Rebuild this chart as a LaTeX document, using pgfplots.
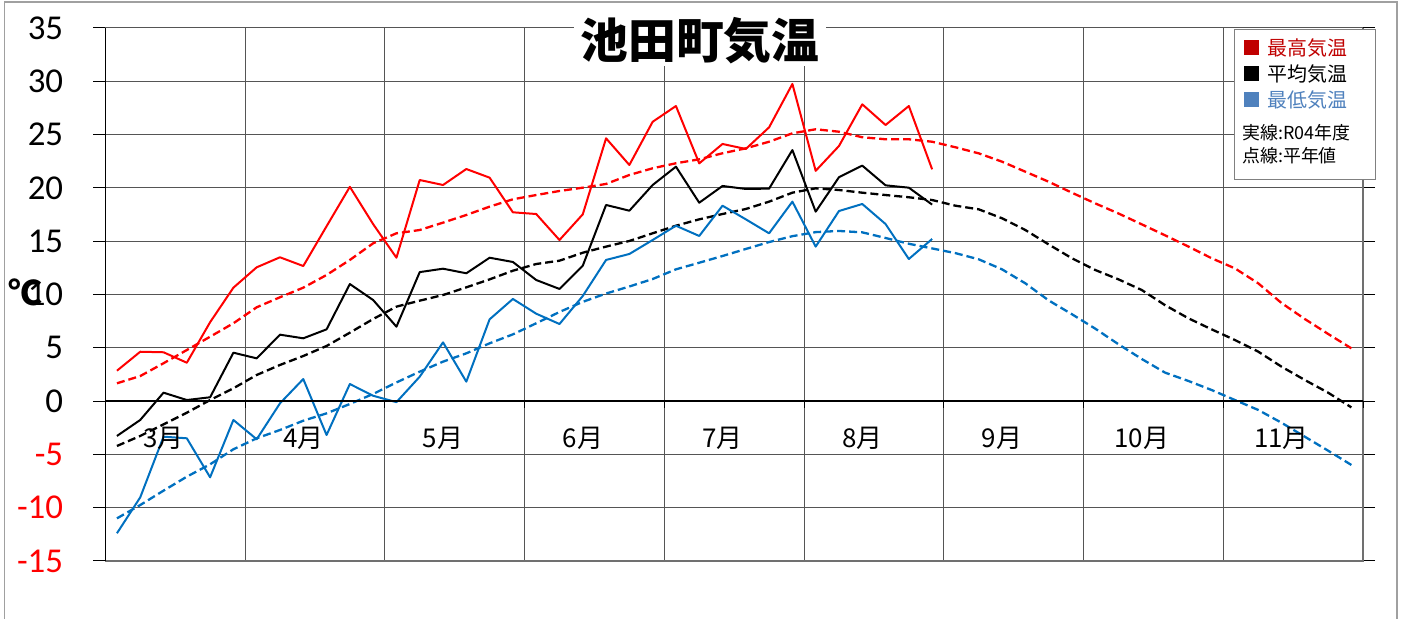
\documentclass[border=0pt]{standalone}
\usepackage{pgfplots}
\usepackage{pgfplotstable}
\pgfplotsset{compat=1.18}
\usepackage{fontspec}
\setmainfont{Carlito}
\newfontfamily\jp{Noto Sans CJK JP}

\definecolor{tmax}{RGB}{255,0,0}
\definecolor{tmin}{RGB}{0,112,192}
\definecolor{legred}{RGB}{192,0,0}
\definecolor{legblue}{RGB}{79,129,189}
\definecolor{gridc}{RGB}{85,85,85}
\definecolor{framec}{RGB}{160,160,160}

% R04 (solid): pentads, 6 per month, Mar--Aug
\pgfplotstableread{
i  hi     avg    lo
0  2.85  -3.27  -12.4
1  4.63  -1.77  -9.03
2  4.58   0.79  -3.34
3  3.6    0.1   -3.49
4  7.4    0.36  -7.15
5  10.64  4.54  -1.77
6  12.55  4.01  -3.58
7  13.49  6.23  -0.21
8  12.67  5.89   2.07
9  16.4   6.73  -3.18
10 20.1   10.98  1.6
11 16.6   9.48   0.5
12 13.45  6.98  -0.1
13 20.74  12.1   2.29
14 20.27  12.42  5.51
15 21.77  11.99  1.82
16 20.96  13.45  7.67
17 17.71  13.05  9.58
18 17.55  11.36  8.2
19 15.11  10.52  7.23
20 17.52  12.7   9.86
21 24.65  18.4   13.24
22 22.15  17.86  13.8
23 26.2   20.27  15.11
24 27.68  21.99  16.45
25 22.3   18.61  15.49
26 24.12  20.18  18.33
27 23.65  19.9   17.05
28 25.68  19.93  15.74
29 29.75  23.55  18.71
30 21.6   17.77  14.49
31 23.93  21.0   17.83
32 27.84  22.09  18.49
33 25.9   20.24  16.61
34 27.68  20.02  13.33
35 21.74  18.43  15.21
}\rfour

% normals (dashed): Mar--Nov
\pgfplotstableread{
i  hi     avg    lo
0  1.67  -4.21  -11.0
1  2.35  -3.27  -9.75
2  3.55  -2.18  -8.4
3  4.79  -1.09  -7.09
4  6.04   0.1   -5.93
5  7.3    1.2   -4.52
6  8.8    2.45  -3.49
7  9.74   3.39  -2.71
8  10.64  4.23  -1.84
9  11.83  5.17  -1.15
10 13.24  6.42  -0.27
11 14.8   7.7    0.67
12 15.74  8.86   1.75
13 16.05  9.42   2.76
14 16.74  9.95   3.7
15 17.46  10.67  4.48
16 18.24  11.42  5.42
17 18.93  12.23  6.26
18 19.33  12.86  7.3
19 19.71  13.17  8.36
20 20.02  13.92  9.31
21 20.37  14.49  10.09
22 21.21  15.02  10.75
23 21.84  15.74  11.45
24 22.31  16.45  12.36
25 22.68  17.05  12.98
26 23.25  17.55  13.61
27 23.71  18.02  14.27
28 24.33  18.71  14.92
29 25.12  19.55  15.47
30 25.5   19.96  15.85
31 25.27  19.8   15.96
32 24.75  19.55  15.83
33 24.56  19.33  15.3
34 24.56  19.12  14.76
35 24.33  18.86  14.32
36 23.81  18.33  13.88
37 23.24  17.99  13.3
38 22.46  17.15  12.36
39 21.52  16.05  11.05
40 20.58  14.7   9.45
41 19.55  13.4   8.15
42 18.55  12.3   6.8
43 17.6   11.42  5.33
44 16.58  10.42  3.95
45 15.55  9.0    2.67
46 14.5   7.77   1.89
47 13.4   6.73   1.04
48 12.45  5.73   0.1
49 11.05  4.64  -0.83
50 9.2    3.23  -2.03
51 7.7    1.98  -3.34
52 6.3    0.79  -4.65
53 4.95  -0.59  -5.99
}\normals

\tikzset{monthlab/.style={font=\jp\fontsize{26}{30}\selectfont}}

\begin{document}
\begin{tikzpicture}[x=1bp,y=1bp]
\useasboundingbox (0,0) rectangle (1402,619);
% outer chart frame (bottom edge is cut off)
\draw[framec, line width=1.3bp] (4.5,0) -- (4.5,617) -- (1397,617) -- (1397,0);

\begin{axis}[
    at={(105.3bp,58bp)}, anchor=south west,
    scale only axis,
    width=1257.7bp, height=533bp,
    xmin=-0.5, xmax=53.5,
    ymin=-15, ymax=35,
    xtick={-0.5,5.5,...,53.5},
    xticklabels={},
    xtick style={draw=none},
    ytick={-15,-10,...,35},
    yticklabels={\textcolor{red}{-15},\textcolor{red}{-10},\textcolor{red}{-5},0,5,10,15,20,25,30,35},
    grid=major,
    grid style={gridc, line width=1bp},
    axis line style={draw=none},
    tick align=outside,
    major tick length=12bp,
    ytick style={black, line width=1bp},
    tick label style={font=\fontsize{35}{40}\selectfont},
    yticklabel style={anchor=east, inner sep=0pt, xshift=-30bp},
    clip=false,
    every axis plot/.append style={line join=round},
]
% normals
\addplot[tmax, line width=2.3bp, dash pattern=on 8bp off 4bp] table[x=i, y=hi] {\normals};
\addplot[black, line width=2.3bp, dash pattern=on 8bp off 4bp] table[x=i, y=avg] {\normals};
\addplot[tmin, line width=2.3bp, dash pattern=on 8bp off 4bp] table[x=i, y=lo] {\normals};
% R04
\addplot[tmax, line width=2bp] table[x=i, y=hi] {\rfour};
\addplot[black, line width=2bp] table[x=i, y=avg] {\rfour};
\addplot[tmin, line width=2bp] table[x=i, y=lo] {\rfour};

% borders and category axis at 0
\draw[framec!70!black, line width=1.6bp] (axis cs:-0.5,-15) -- (axis cs:53.5,-15) -- (axis cs:53.5,35);
\draw[black, line width=1.2bp] (axis cs:-0.5,-15) -- (axis cs:-0.5,35);
\draw[black, line width=1.2bp] (axis cs:-0.5,0) -- (axis cs:53.5,0);
\draw[black, line width=1bp] (axis cs:-0.5,0) -- (axis cs:-0.5,-0.66);
\draw[black, line width=1bp] (axis cs:5.5,0) -- (axis cs:5.5,-0.66);
\draw[black, line width=1bp] (axis cs:11.5,0) -- (axis cs:11.5,-0.66);
\draw[black, line width=1bp] (axis cs:17.5,0) -- (axis cs:17.5,-0.66);
\draw[black, line width=1bp] (axis cs:23.5,0) -- (axis cs:23.5,-0.66);
\draw[black, line width=1bp] (axis cs:29.5,0) -- (axis cs:29.5,-0.66);
\draw[black, line width=1bp] (axis cs:35.5,0) -- (axis cs:35.5,-0.66);
\draw[black, line width=1bp] (axis cs:41.5,0) -- (axis cs:41.5,-0.66);
\draw[black, line width=1bp] (axis cs:47.5,0) -- (axis cs:47.5,-0.66);
\draw[black, line width=1bp] (axis cs:53.5,0) -- (axis cs:53.5,-0.66);
% month labels
\node[monthlab] at (axis cs:2,-3.46) {3月};
\node[monthlab] at (axis cs:8,-3.46) {4月};
\node[monthlab] at (axis cs:14,-3.46) {5月};
\node[monthlab] at (axis cs:20,-3.46) {6月};
\node[monthlab] at (axis cs:26,-3.46) {7月};
\node[monthlab] at (axis cs:32,-3.46) {8月};
\node[monthlab] at (axis cs:38,-3.46) {9月};
\node[monthlab] at (axis cs:44,-3.46) {10月};
\node[monthlab] at (axis cs:50,-3.46) {11月};
\end{axis}

% title
\node[fill=white, inner xsep=6bp, inner ysep=2bp, font=\jp\bfseries\fontsize{48}{52}\selectfont] at (700,578) {池田町気温};
% unit label
\node[font=\jp\bfseries\fontsize{34}{38}\selectfont, inner sep=0pt] at (25,327) {℃};

% legend box
\draw[gray, fill=white, line width=1bp] (1234.6,439) rectangle (1375,589);
\fill[legred] (1244.3,564) rectangle (1259,579);
\fill[black] (1244.3,538) rectangle (1259,553);
\fill[legblue] (1244.3,512) rectangle (1259,527);
\begin{scope}[every node/.style={anchor=west, inner sep=0pt}]
\node[text=legred, font=\jp\fontsize{20}{24}\selectfont] at (1267.7,571.5) {最高気温};
\node[text=black, font=\jp\fontsize{20}{24}\selectfont] at (1267.7,545.5) {平均気温};
\node[text=legblue, font=\jp\fontsize{20}{24}\selectfont] at (1267.7,519.5) {最低気温};
\node[font=\jp\fontsize{18}{22}\selectfont] at (1242,486.3) {実線:R04年度};
\node[font=\jp\fontsize{18}{22}\selectfont] at (1242,463) {点線:平年値};
\end{scope}
\end{tikzpicture}
\end{document}
